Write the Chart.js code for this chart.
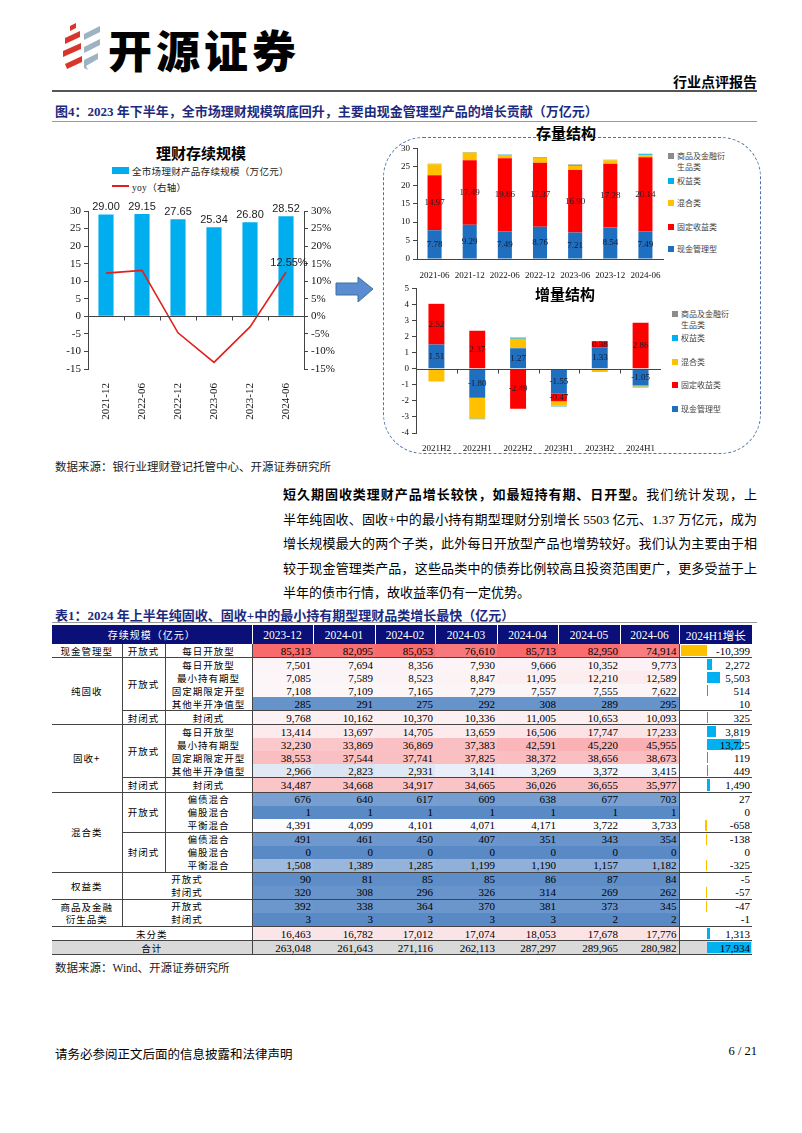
<!DOCTYPE html>
<html>
<head>
<meta charset="utf-8">
<title>理财存续规模</title>
<script src="https://cdn.jsdelivr.net/npm/chart.js@4.4.1/dist/chart.umd.min.js"></script>
<style>
  body { margin: 0; background: #fff; }
  #page { position: relative; width: 802px; height: 1133px; overflow: hidden; background: #fff;
          font-family: "Liberation Serif", "Noto Sans CJK SC", serif; color: #000; }
  .abs { position: absolute; white-space: nowrap; }
  canvas { position: absolute; }
  .cap { font-size: 13px; font-weight: bold; color: #1c2a80; }
  .src { font-size: 11.5px; color: #222; }
  .ttl { font-weight: bold; font-size: 15px; }
  .lg { position: absolute; font-size: 8px; color: #404040; line-height: 11px; }
  .lg i { position: absolute; left: -9px; top: 2px; width: 6px; height: 6px; }
  #para { left: 283px; top: 483px; width: 474px; font-size: 13px; }
  #para div { text-align: justify; text-align-last: justify; height: 24.6px; line-height: 24.6px; white-space: nowrap; }
  #tbl { position: absolute; left: 52px; top: 625px; width: 700px; border-collapse: collapse; table-layout: fixed; font-size: 11px; }
  #tbl th { background: #0a1078; color: #fff; font-weight: normal; height: 19px; padding: 0; border-right: 1px solid #fff; font-size: 11.5px; }
  #tbl td { height: 13.05px; padding: 0 2px; line-height: 12px; white-space: nowrap; overflow: hidden; }
  #tbl td.n { text-align: right; }
  #tbl td.l { text-align: center; font-family: "Noto Sans CJK SC", sans-serif; font-size: 9.5px; letter-spacing: 1px; }
  #tbl td.bb { border-bottom: 1px solid #444; }
  #tbl td.br { border-right: 1px solid #444; }
  #tbl td.g { position: relative; }
</style>
</head>
<body>
<div id="page">

  <!-- 页眉 -->
  <svg class="abs" style="left:60px;top:22px" width="46" height="52">
    <polygon points="10,4 16,1 16,6 10,9" fill="#d9362b"/>
    <polygon points="5,16 20,9 20,15 5,22" fill="#d9362b"/>
    <polygon points="3,29 21,21 21,27 3,35" fill="#d9362b"/>
    <polygon points="5,42 22,34 22,40 7,47" fill="#d9362b"/>
    <polygon points="24,12 40,4 40,10 24,18" fill="#9db3c2"/>
    <polygon points="24,25 40,17 40,23 24,31" fill="#9db3c2"/>
    <polygon points="24,38 38,31 38,37 26,44 28,48 24,46" fill="#9db3c2"/>
  </svg>
  <div class="abs" style="left:108px;top:27px;font-size:44px;line-height:44px;font-weight:900;font-family:'Noto Sans CJK SC',sans-serif;letter-spacing:4px">开源证券</div>
  <div class="abs" style="right:45px;top:71px;font-size:14px;font-weight:bold;font-family:'Noto Sans CJK SC',sans-serif">行业点评报告</div>
  <div class="abs" style="left:52px;top:90px;width:705px;height:2px;background:#555"></div>

  <div class="abs cap" style="left:55px;top:101px">图4：2023 年下半年，全市场理财规模筑底回升，主要由现金管理型产品的增长贡献（万亿元）</div>
  <div class="abs" style="left:52px;top:121px;width:705px;height:1px;background:#999"></div>

  <!-- 左图：理财存续规模 -->
  <div class="abs ttl" style="left:156px;top:142px">理财存续规模</div>
  <div class="abs" style="left:112px;top:167px;width:17px;height:7px;background:#00aeef"></div>
  <div class="abs" style="left:132px;top:164px;font-size:9.5px;color:#222;letter-spacing:0.3px">全市场理财产品存续规模（万亿元）</div>
  <div class="abs" style="left:112px;top:185px;width:17px;height:2px;background:#e0201b"></div>
  <div class="abs" style="left:132px;top:180px;font-size:9.5px;color:#222;letter-spacing:0.3px">yoy（右轴）</div>
  <canvas id="scaleChart" width="290" height="225" style="left:55px;top:195px"></canvas>

  <!-- 箭头 -->
  <svg class="abs" style="left:334px;top:275px" width="42" height="30">
    <polygon points="2,8 24,8 24,2 39,14 24,27 24,20 2,20" fill="#5b8bd0" stroke="#41719c" stroke-width="1"/>
  </svg>

  <!-- 右侧虚线框 -->
  <div class="abs" style="left:383px;top:137px;width:378px;height:317px;border:1px dashed #4f71a8;border-radius:40px;box-sizing:border-box"></div>
  <div class="abs ttl" style="left:536px;top:122px">存量结构</div>
  <canvas id="stockChart" width="280" height="140" style="left:385px;top:140px"></canvas>
  <div id="stockLegend"></div>
  <div class="abs ttl" style="left:535px;top:283px">增量结构</div>
  <canvas id="flowChart" width="280" height="172" style="left:385px;top:280px"></canvas>
  <div id="flowLegend"></div>

  <div class="abs src" style="left:55px;top:458px">数据来源：银行业理财登记托管中心、开源证券研究所</div>

  <!-- 正文 -->
  <div id="para" class="abs">
    <div><b>短久期固收类理财产品增长较快，如最短持有期、日开型。</b>我们统计发现，上</div>
    <div>半年纯固收、固收+中的最小持有期型理财分别增长 5503 亿元、1.37 万亿元，成为</div>
    <div>增长规模最大的两个子类，此外每日开放型产品也增势较好。我们认为主要由于相</div>
    <div>较于现金管理类产品，这些品类中的债券比例较高且投资范围更广，更多受益于上</div>
    <div style="text-align-last:left">半年的债市行情，故收益率仍有一定优势。</div>
  </div>

  <div class="abs cap" style="left:55px;top:605px">表1：2024 年上半年纯固收、固收+中的最小持有期型理财品类增长最快（亿元）</div>
  <div class="abs" style="left:52px;top:622px;width:705px;height:1px;background:#999"></div>
  <table id="tbl"></table>
  <div class="abs src" style="left:55px;top:959px">数据来源：Wind、开源证券研究所</div>

  <!-- 页脚 -->
  <div class="abs" style="left:55px;top:1044px;font-size:12.5px">请务必参阅正文后面的信息披露和法律声明</div>
  <div class="abs" style="right:45px;top:1044px;font-size:12.5px">6 / 21</div>
</div>

<script>
// 左图：存续规模（万亿元）与同比
const scaleDates = ['2021-12', '2022-06', '2022-12', '2023-06', '2023-12', '2024-06'];
const scaleValues = [29.00, 29.15, 27.65, 25.34, 26.80, 28.52];
const yoyValues = [12.3, 13.1, -4.7, -13.1, -3.0, 12.55];

// 存量结构（万亿元）
const stockDates = ['2021-06', '2021-12', '2022-06', '2022-12', '2023-06', '2023-12', '2024-06'];
const stockCash = [7.78, 9.29, 7.49, 8.76, 7.21, 8.54, 7.49];
const stockFixed = [14.97, 17.49, 19.86, 17.37, 16.90, 17.28, 20.14];
const stockMixed = [2.95, 2.10, 0.75, 1.30, 1.10, 0.95, 0.50];
const stockEquity = [0.10, 0.10, 0.15, 0.15, 0.20, 0.10, 0.25];
const stockCommodity = [0.05, 0.05, 0.10, 0.10, 0.20, 0.05, 0.15];

// 增量结构（万亿元）
const flowHalves = ['2021H2', '2022H1', '2022H2', '2023H1', '2023H2', '2024H1'];
const flowCash = [1.51, -1.80, 1.27, -1.55, 1.33, -1.05];
const flowFixed = [2.52, 2.37, -2.49, -0.47, 0.38, 2.86];
const flowMixed = [-0.80, -1.30, 0.60, -0.28, -0.20, -0.06];
const flowEquity = [0.01, -0.03, 0.06, -0.03, 0.02, -0.04];
const flowCommodity = [0.00, -0.02, 0.02, -0.02, 0.00, -0.02];

const seriesNames = ['现金管理型', '固定收益类', '混合类', '权益类', '商品及金融衍生品类'];
const seriesColors = ['#1f6fc0', '#ff0000', '#ffc000', '#00b0f0', '#8c8c8c'];

// 表1（亿元）
const tableMonths = ['2023-12', '2024-01', '2024-02', '2024-03', '2024-04', '2024-05', '2024-06'];
// [一级, 一级行数, 二级, 二级行数(-1 表示与三级合并), 三级]；一级行数 -3 表示合并三列
const tableRowNames = [
    ['现金管理型', 1, '开放式', 1, '每日开放型'],
    ['纯固收', 5, '开放式', 4, '每日开放型'],
    [null, 0, null, 0, '最小持有期型'],
    [null, 0, null, 0, '固定期限定开型'],
    [null, 0, null, 0, '其他半开净值型'],
    [null, 0, '封闭式', 1, '封闭式'],
    ['固收+', 5, '开放式', 4, '每日开放型'],
    [null, 0, null, 0, '最小持有期型'],
    [null, 0, null, 0, '固定期限定开型'],
    [null, 0, null, 0, '其他半开净值型'],
    [null, 0, '封闭式', 1, '封闭式'],
    ['混合类', 6, '开放式', 3, '偏债混合'],
    [null, 0, null, 0, '偏股混合'],
    [null, 0, null, 0, '平衡混合'],
    [null, 0, '封闭式', 3, '偏债混合'],
    [null, 0, null, 0, '偏股混合'],
    [null, 0, null, 0, '平衡混合'],
    ['权益类', 2, '开放式', -1, null],
    [null, 0, '封闭式', -1, null],
    ['商品及金融<br>衍生品类', 2, '开放式', -1, null],
    [null, 0, '封闭式', -1, null],
    ['未分类', -3, null, 0, null],
    ['合计', -3, null, 0, null]
];
const tableValues = [
    [85313, 82095, 85053, 76610, 85713, 82950, 74914],
    [7501, 7694, 8356, 7930, 9666, 10352, 9773],
    [7085, 7589, 8523, 8847, 11095, 12210, 12589],
    [7108, 7109, 7165, 7279, 7557, 7555, 7622],
    [285, 291, 275, 292, 308, 289, 295],
    [9768, 10162, 10370, 10336, 11005, 10653, 10093],
    [13414, 13697, 14705, 13659, 16506, 17747, 17233],
    [32230, 33869, 36869, 37383, 42591, 45220, 45955],
    [38553, 37544, 37741, 37825, 38372, 38656, 38673],
    [2966, 2823, 2931, 3141, 3269, 3372, 3415],
    [34487, 34668, 34917, 34665, 36026, 36655, 35977],
    [676, 640, 617, 609, 638, 677, 703],
    [1, 1, 1, 1, 1, 1, 1],
    [4391, 4099, 4101, 4071, 4171, 3722, 3733],
    [491, 461, 450, 407, 351, 343, 354],
    [0, 0, 0, 0, 0, 0, 0],
    [1508, 1389, 1285, 1199, 1190, 1157, 1182],
    [90, 81, 85, 85, 86, 87, 84],
    [320, 308, 296, 326, 314, 269, 262],
    [392, 338, 364, 370, 381, 373, 345],
    [3, 3, 3, 3, 3, 2, 2],
    [16463, 16782, 17012, 17074, 18053, 17678, 17776],
    [263048, 261643, 271116, 262113, 287297, 289965, 280982]
];
const tableGrowth = [-10399, 2272, 5503, 514, 10, 325, 3819, 13725, 119, 449, 1490,
    27, 0, -658, -138, 0, -325, -5, -57, -47, -1, 1313, 17934];


Chart.defaults.font.family = '"Liberation Serif", "Noto Sans CJK SC", serif';
Chart.defaults.color = '#111';

// 柱上/柱内数值
const valueLabels = {
    id: 'valueLabels',
    afterDatasetsDraw(chart, args, opts) {
        if (!opts.datasets) return;
        const ctx = chart.ctx;
        ctx.save();
        ctx.font = opts.font;
        ctx.fillStyle = opts.color;
        ctx.textAlign = 'center';
        opts.datasets.forEach(di => {
            const meta = chart.getDatasetMeta(di);
            meta.data.forEach((bar, i) => {
                const v = chart.data.datasets[di].data[i];
                if (opts.inside) {
                    ctx.textBaseline = 'middle';
                    ctx.fillText(v.toFixed(2), bar.x, (bar.y + bar.base) / 2);
                } else {
                    ctx.textBaseline = 'bottom';
                    ctx.fillText(v.toFixed(2), bar.x, bar.y - 2);
                }
            });
        });
        if (opts.lastPoint) {
            const ds = opts.lastPoint.dataset;
            const meta = chart.getDatasetMeta(ds);
            const data = chart.data.datasets[ds].data;
            const pt = meta.data[data.length - 1];
            ctx.textBaseline = 'bottom';
            ctx.fillText(data[data.length - 1].toFixed(2) + '%', pt.x + 3, pt.y - 4);
        }
        ctx.restore();
    }
};

// 0 轴线及类别刻度
const zeroAxis = {
    id: 'zeroAxis',
    afterDatasetsDraw(chart, args, opts) {
        if (!opts.show) return;
        const ctx = chart.ctx;
        const xs = chart.scales.x;
        const ys = chart.scales.y;
        const y0 = Math.round(ys.getPixelForValue(0)) + 0.5;
        const area = chart.chartArea;
        ctx.save();
        ctx.strokeStyle = '#444';
        ctx.lineWidth = 1;
        ctx.beginPath();
        ctx.moveTo(area.left, y0);
        ctx.lineTo(area.right, y0);
        const n = chart.data.labels.length;
        for (let i = 0; i < n - 1; i++) {
            const px = Math.round((xs.getPixelForTick(i) + xs.getPixelForTick(i + 1)) / 2) + 0.5;
            ctx.moveTo(px, y0);
            ctx.lineTo(px, y0 + 4);
        }
        ctx.stroke();
        ctx.restore();
    }
};

Chart.register(valueLabels, zeroAxis);

function yAxis(min, max, step, size, width, fmt) {
    return {
        min: min, max: max,
        ticks: { stepSize: step, font: { size: size }, padding: 3, callback: fmt || (v => v) },
        grid: { drawOnChartArea: false, tickLength: 4, color: '#444' },
        border: { color: '#444' },
        afterFit(s) { s.width = width; }
    };
}

// 左图
new Chart(document.getElementById('scaleChart'), {
    data: {
        labels: scaleDates,
        datasets: [{
            type: 'line',
            label: 'yoy（右轴）',
            data: yoyValues,
            yAxisID: 'y1',
            borderColor: '#e0201b',
            borderWidth: 1.6,
            pointRadius: 0,
            order: 0
        }, {
            type: 'bar',
            label: '全市场理财产品存续规模（万亿元）',
            data: scaleValues,
            yAxisID: 'y',
            backgroundColor: '#00aeef',
            barPercentage: 0.42,
            categoryPercentage: 1,
            order: 1
        }]
    },
    options: {
        responsive: false,
        animation: false,
        devicePixelRatio: 1,
        layout: { padding: { top: 16, left: 0, right: 0, bottom: 0 } },
        plugins: {
            legend: { display: false },
            tooltip: { enabled: false },
            valueLabels: { datasets: [1], font: '11px "Liberation Sans"', color: '#222', lastPoint: { dataset: 0 } },
            zeroAxis: { show: true }
        },
        scales: {
            x: {
                grid: { display: false },
                border: { display: false },
                ticks: { minRotation: 90, maxRotation: 90, autoSkip: false, font: { size: 11 }, padding: 6 },
                afterFit(s) { s.height = 51; }
            },
            y: Object.assign(yAxis(-15, 30, 5, 11, 33), { position: 'left' }),
            y1: Object.assign(yAxis(-15, 30, 5, 11, 41, v => v + '%'), { position: 'right' })
        }
    }
});

function stackSets(lists) {
    return lists.map((d, i) => ({
        label: seriesNames[i],
        data: d,
        backgroundColor: seriesColors[i],
        barPercentage: 0.4,
        categoryPercentage: 1
    }));
}

// 存量结构
new Chart(document.getElementById('stockChart'), {
    type: 'bar',
    data: {
        labels: stockDates,
        datasets: stackSets([stockCash, stockFixed, stockMixed, stockEquity, stockCommodity])
    },
    options: {
        responsive: false,
        animation: false,
        devicePixelRatio: 1,
        layout: { padding: { top: 7, left: 0, right: 2, bottom: 0 } },
        plugins: {
            legend: { display: false },
            tooltip: { enabled: false },
            valueLabels: { datasets: [0, 1], inside: true, font: '9px "Liberation Serif"', color: '#1a1a2a' }
        },
        scales: {
            x: {
                stacked: true,
                grid: { display: false },
                border: { display: true, color: '#444' },
                ticks: { maxRotation: 0, autoSkip: false, font: { size: 9 }, padding: 3 },
                afterFit(s) { s.height = 21; }
            },
            y: Object.assign(yAxis(0, 30, 5, 9, 32), { stacked: true })
        }
    }
});

// 增量结构
const flowSets = stackSets([flowCash, flowFixed, flowMixed, flowEquity, flowCommodity]);
flowSets.forEach(d => { d.barPercentage = 0.39; });
new Chart(document.getElementById('flowChart'), {
    type: 'bar',
    data: { labels: flowHalves, datasets: flowSets },
    options: {
        responsive: false,
        animation: false,
        devicePixelRatio: 1,
        layout: { padding: { top: 7, left: 0, right: 4, bottom: 0 } },
        plugins: {
            legend: { display: false },
            tooltip: { enabled: false },
            valueLabels: { datasets: [0, 1], inside: true, font: '9px "Liberation Serif"', color: '#1a1a2a' },
            zeroAxis: { show: true }
        },
        scales: {
            x: {
                stacked: true,
                grid: { display: false },
                border: { display: false },
                ticks: { maxRotation: 0, autoSkip: false, font: { size: 9 }, padding: 2 },
                afterFit(s) { s.height = 19; }
            },
            y: Object.assign(yAxis(-4, 5, 1, 9, 31), { stacked: true })
        }
    }
});

// 右侧图例（倒序，与堆叠方向一致）
function drawLegend(id, left, tops) {
    const box = document.getElementById(id);
    let html = '';
    for (let k = seriesNames.length - 1, j = 0; k >= 0; k--, j++) {
        let name = seriesNames[k];
        if (name.length > 6) name = name.slice(0, 6) + '<br>' + name.slice(6);
        html += `<div class="lg" style="left:${left}px;top:${tops[j]}px"><i style="background:${seriesColors[k]}"></i>${name}</div>`;
    }
    box.innerHTML = html;
}
drawLegend('stockLegend', 677, [151, 176, 198, 222, 244]);
drawLegend('flowLegend', 681, [309, 333, 357, 380, 404]);


// 表格
const BLUE = [90, 138, 198], WHITE = [252, 252, 255], RED = [248, 105, 107];
const heatValues = tableValues.slice(0, 22).flat().sort((a, b) => a - b);
const heatMin = heatValues[0];
const heatMax = heatValues[heatValues.length - 1];
const heatMid = (heatValues[heatValues.length / 2 - 1] + heatValues[heatValues.length / 2]) / 2;

function mix(a, b, t) {
    return 'rgb(' + a.map((c, i) => Math.round(c + (b[i] - c) * t)).join(',') + ')';
}
function heat(v) {
    if (v <= heatMid) return mix(BLUE, WHITE, (v - heatMin) / (heatMid - heatMin));
    return mix(WHITE, RED, (v - heatMid) / (heatMax - heatMid));
}
const fmt = v => v.toLocaleString('en-US');

const lineRows = [0, 4, 5, 9, 10, 13, 16, 18, 20, 21, 22];
const colWidths = [70, 43, 87, 61, 62, 60, 62, 61, 62, 59, 73];
const gMin = Math.min(...tableGrowth), gMax = Math.max(...tableGrowth);
const gW = colWidths[10] - 2;
const gAxis = 1 + gW * (-gMin) / (gMax - gMin);

let html = '<colgroup>' + colWidths.map(w => `<col style="width:${w}px">`).join('') + '</colgroup>';
html += '<tr><th colspan="3" style="font-family:\'Noto Sans CJK SC\';font-size:10px;letter-spacing:1px">存续规模（亿元）</th>'
    + tableMonths.map(m => `<th>${m}</th>`).join('')
    + '<th style="border-right:none">2024H1增长</th></tr>';

tableRowNames.forEach((r, i) => {
    const line = lineRows.includes(i) ? ' bb' : '';
    const total = i === tableRowNames.length - 1;
    const grey = total ? 'background:#d9d9d9;' : '';
    let row = `<tr>`;
    if (r[1] === -3) {
        row += `<td colspan="3" class="l br${line}" style="${grey}">${r[0]}</td>`;
    } else {
        if (r[0] !== null) row += `<td rowspan="${r[1]}" class="l br bb">${r[0]}</td>`;
        if (r[3] === -1) {
            row += `<td colspan="2" class="l br${line}">${r[2]}</td>`;
        } else {
            if (r[2] !== null) row += `<td rowspan="${r[3]}" class="l br bb">${r[2]}</td>`;
            row += `<td class="l br${line}">${r[4]}</td>`;
        }
    }
    tableValues[i].forEach((v, j) => {
        const bg = total ? '#d9d9d9' : heat(v);
        const br = j === tableValues[i].length - 1 ? ' br' : '';
        row += `<td class="n${line}${br}" style="background:${bg}">${fmt(v)}</td>`;
    });
    const g = tableGrowth[i];
    const w = Math.abs(g) / (gMax - gMin) * gW;
    const left = g >= 0 ? gAxis : gAxis - w;
    const bar = `<div style="position:absolute;top:1px;bottom:1px;left:${left}px;width:${w}px;background:${g >= 0 ? '#00b0f0' : '#ffc000'}"></div>`;
    row += `<td class="n g${line}" style="${grey}">${bar}<span style="position:relative">${fmt(g)}</span></td>`;
    row += '</tr>';
    html += row;
});
document.getElementById('tbl').innerHTML = html;
</script>
</body>
</html>
